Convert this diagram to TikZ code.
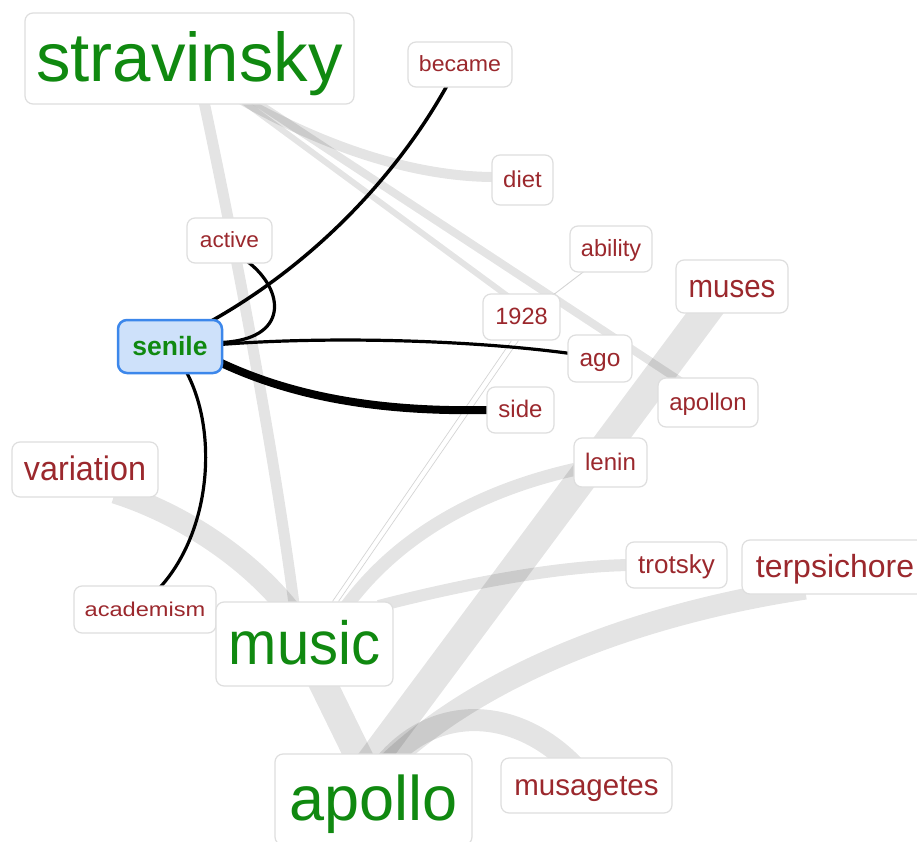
\documentclass[tikz,border=0pt]{standalone}
\usepackage{fontspec}
\setmainfont{Liberation Sans}
\usepackage{graphicx}

\definecolor{wgreen}{RGB}{16,137,16}
\definecolor{wred}{RGB}{155,40,45}
\definecolor{boxgray}{RGB}{222,222,222}
\definecolor{sblue}{RGB}{60,135,235}
\definecolor{sfill}{RGB}{206,225,250}

\pgfdeclarelayer{edges}
\pgfsetlayers{edges,main}

\tikzset{
  wbox/.style={draw=boxgray, line width=1.2pt, rounded corners=8pt, fill=white, inner sep=0pt},
  link/.style={draw=black, draw opacity=0.105, line cap=butt},
  fine/.style={draw=black, draw opacity=0.17, line width=0.9pt},
  tie/.style={draw=black, line width=3.2pt},
}

% name, cx, cy, width, height, font size, horizontal scale, colour, word
\newcommand\wordbox[9]{%
  \pgfmathsetmacro\wbH{0.86*#6}%
  \pgfmathsetmacro\wbD{0.2*#6}%
  \node[wbox, minimum width=#4pt, minimum height=#5pt, text=#8,
        font=\fontsize{#6pt}{#6pt}\selectfont,
        text height=\wbH pt, text depth=\wbD pt] (#1) at (#2,#3) {\scalebox{#7}[1]{#9}};%
}

\begin{document}
\begin{tikzpicture}[x=1pt,y=-1pt]
\useasboundingbox (0,0) rectangle (917,842);
\begin{pgfonlayer}{edges}
  \fill[white] (0,0) rectangle (917,842);
\end{pgfonlayer}

% word boxes
\wordbox{stravinsky}{189.5}{58.5}{329}{91}{69}{1}{wgreen}{stravinsky}
\wordbox{became}{460}{64.5}{104}{45}{22}{1.05}{wred}{became}
\wordbox{diet}{522.5}{180}{61}{50}{23}{1.04}{wred}{diet}
\wordbox{active}{229.5}{240.5}{85}{45}{22}{1.03}{wred}{active}
\wordbox{ability}{611}{249}{82}{46}{23.5}{1}{wred}{ability}
\wordbox{muses}{732}{286.5}{112}{53}{32}{0.92}{wred}{muses}
\wordbox{n1928}{521.5}{317}{77}{46}{23.5}{1}{wred}{1928}
\wordbox{ago}{600}{358.5}{64}{47}{24.5}{1}{wred}{ago}
\wordbox{side}{520.5}{410}{67}{46}{24}{1}{wred}{side}
\wordbox{apollon}{708}{402.5}{100}{49}{24}{1}{wred}{apollon}
\wordbox{variation}{85}{469.5}{146}{55}{34}{0.95}{wred}{variation}
\wordbox{lenin}{610.5}{462.5}{73}{49}{24}{1}{wred}{lenin}
\wordbox{trotsky}{676.5}{565}{101}{46}{26}{1}{wred}{trotsky}
\wordbox{terpsichore}{835}{567}{186}{54}{32}{1}{wred}{terpsichore}
\wordbox{academism}{145}{609.5}{142}{47}{20}{1.18}{wred}{academism}
\wordbox{music}{304.5}{644}{177}{84}{61}{0.95}{wgreen}{music}
\wordbox{apollo}{373.5}{799.5}{197}{91}{63}{1}{wgreen}{apollo}
\wordbox{musagetes}{586.5}{785.5}{171}{55}{29.5}{1}{wred}{musagetes}

% the selected word
\node[draw=sblue, line width=2.5pt, fill=sfill, rounded corners=9pt, inner sep=0pt,
      minimum width=104pt, minimum height=53pt, text=wgreen,
      font=\fontsize{26.5pt}{26.5pt}\selectfont\bfseries,
      text height=22.8pt, text depth=5.3pt] (senile) at (170,346.5) {senile};

\begin{pgfonlayer}{edges}
  % co-occurrence bands (ends tucked under the boxes)
  \draw[link, line width=11pt] ([xshift=13pt,yshift=10pt]stravinsky.south) .. controls (225,200) and (270,420) .. ([xshift=-9.5pt,yshift=-10pt]music.north);
  \draw[link, line width=10pt] ([xshift=50pt,yshift=6pt]stravinsky.south) .. controls (330,150) and (420,178) .. ([xshift=8pt,yshift=3pt]diet.west);
  \draw[link, line width=6pt] ([xshift=44.5pt,yshift=10pt]stravinsky.south) -- ([xshift=-4pt,yshift=-10pt]n1928.north);
  \draw[link, line width=8pt] ([xshift=55pt,yshift=10pt]stravinsky.south) -- ([xshift=-18pt,yshift=-10pt]apollon.north);
  \draw[fine] ([xshift=-26pt,yshift=2pt]ability.south) -- ([xshift=-8pt,yshift=-2pt]n1928.north east);
  \draw[fine, line width=0.7pt] ([xshift=-10pt]n1928.south) -- ([xshift=28pt]music.north);
  \draw[fine, line width=0.7pt] ([xshift=-3pt]n1928.south) -- ([xshift=34pt]music.north);
  \draw[link, line width=22pt] ([xshift=30pt,yshift=5pt]variation.south) .. controls (185,515) and (250,560) .. ([xshift=-14pt,yshift=-10pt]music.north);
  \draw[link, line width=28pt] ([xshift=15pt,yshift=10pt]music.south) -- ([xshift=-6.6pt,yshift=-20pt]apollo.north);
  \draw[link, line width=30pt] ([xshift=-20pt,yshift=10pt]muses.south) -- ([xshift=-11pt,yshift=-20pt]apollo.north);
  \draw[link, line width=22pt] ([xshift=-30pt,yshift=6pt]terpsichore.south) .. controls (650,612) and (480,670) .. ([xshift=4.5pt,yshift=-20pt]apollo.north);
  \draw[link, line width=22pt] ([xshift=4pt,yshift=-20pt]apollo.north) .. controls (430,700) and (520,705) .. ([xshift=-7pt,yshift=-15pt]musagetes.north);
  \draw[link, line width=13pt] ([xshift=38pt,yshift=-10pt]music.north) .. controls (400,530) and (490,487) .. ([xshift=10pt,yshift=-5pt]lenin.west);
  \draw[link, line width=12pt] ([xshift=-15pt,yshift=38pt]music.east) .. controls (460,585) and (560,565) .. ([xshift=10pt]trotsky.west);

  % links of the selected word
  \draw[tie, line width=3.5pt] ([xshift=40pt,yshift=-3pt]senile.north) .. controls (320,260) and (400,170) .. ([xshift=-13pt,yshift=2pt]became.south);
  \draw[tie] ([xshift=18pt,yshift=2pt]active.south) .. controls (285,290) and (290,340) .. ([xshift=-3pt,yshift=4pt]senile.east);
  \draw[tie] ([xshift=-3pt,yshift=2pt]senile.east) .. controls (330,336) and (470,340) .. ([xshift=3pt,yshift=5pt]ago.west);
  \draw[tie, line width=8pt] ([xshift=-3pt,yshift=-16pt]senile.east) .. controls (300,400) and (390,412) .. ([xshift=3pt]side.west);
  \draw[tie] ([xshift=16pt,yshift=3pt]senile.south) .. controls (218,430) and (212,530) .. ([xshift=15pt,yshift=-2pt]academism.north);
\end{pgfonlayer}
\end{tikzpicture}
\end{document}
